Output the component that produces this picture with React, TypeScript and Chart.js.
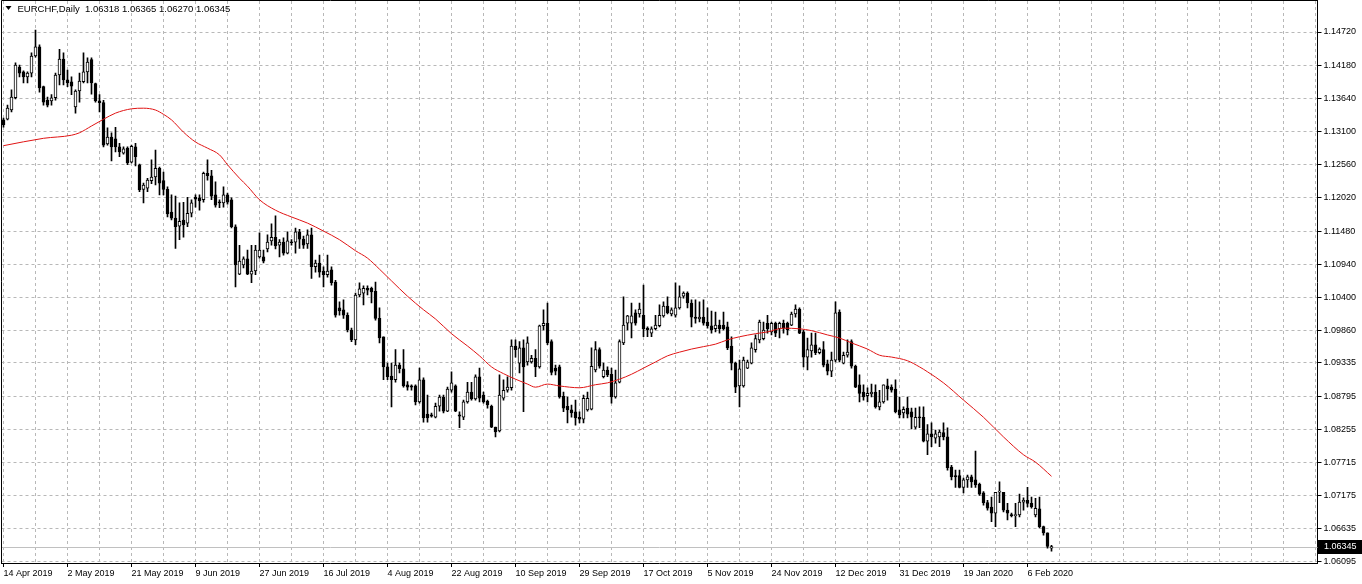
import React, { useEffect, useRef } from "react";
import { Chart, registerables } from "chart.js";

Chart.register(...registerables);

const symbol = "EURCHF";
const timeframe = "Daily";

const xTickLabels = [
  "14 Apr 2019", "2 May 2019", "21 May 2019", "9 Jun 2019", "27 Jun 2019", "16 Jul 2019",
  "4 Aug 2019", "22 Aug 2019", "10 Sep 2019", "29 Sep 2019", "17 Oct 2019", "5 Nov 2019",
  "24 Nov 2019", "12 Dec 2019", "31 Dec 2019", "19 Jan 2020", "6 Feb 2020",
];
const barsPerLabel = 16;
const barsPerGrid = 8;
const emptySlots = 66;

const yTickValues = [
  1.1472, 1.1418, 1.1364, 1.131, 1.1256, 1.1202, 1.1148, 1.1094, 1.104, 1.0986,
  1.09335, 1.08795, 1.08255, 1.07715, 1.07175, 1.06635, 1.06095,
];
const yMin = 1.060785;
const yMax = 1.152245;

const opens = [
  1.1329, 1.1330, 1.1345, 1.1365, 1.1415, 1.1407, 1.1399, 1.1405, 1.1433, 1.1448,
  1.1383, 1.1361, 1.1360, 1.1365, 1.1402, 1.1428, 1.1394, 1.1391, 1.1350, 1.1376,
  1.1391, 1.1407, 1.1427, 1.1388, 1.1360, 1.1357, 1.1290, 1.1301, 1.1298, 1.1285,
  1.1275, 1.1283, 1.1260, 1.1285, 1.1256, 1.1216, 1.1218, 1.1230, 1.1236, 1.1250,
  1.1230, 1.1216, 1.1179, 1.1169, 1.1156, 1.1166, 1.1161, 1.1177, 1.1203, 1.1202,
  1.1199, 1.1242, 1.1238, 1.1207, 1.1195, 1.1194, 1.1207, 1.1199, 1.1155, 1.1078,
  1.1093, 1.1103, 1.1078, 1.1083, 1.1106, 1.1106, 1.1119, 1.1132, 1.1138, 1.1125,
  1.1130, 1.1112, 1.1130, 1.1130, 1.1147, 1.1135, 1.1127, 1.1142, 1.1090, 1.1096,
  1.1083, 1.1077, 1.1085, 1.1065, 1.1023, 1.1020, 1.1011, 1.0987, 1.0971, 1.1044,
  1.1047, 1.1055, 1.1055, 1.1050, 1.1006, 1.0976, 1.0927, 1.0912, 1.0906, 1.0930,
  1.0924, 1.0898, 1.0896, 1.0896, 1.0870, 1.0906, 1.0850, 1.0849, 1.0845, 1.0863,
  1.0878, 1.0855, 1.0889, 1.0896, 1.0849, 1.0845, 1.0870, 1.0886, 1.0875, 1.0911,
  1.0881, 1.0871, 1.0863, 1.0829, 1.0823, 1.0876, 1.0889, 1.0893, 1.0961, 1.0933,
  1.0958, 1.0935, 1.0935, 1.0941, 1.0927, 1.0994, 1.0998, 1.0968, 1.0925, 1.0927,
  1.0879, 1.0863, 1.0857, 1.0854, 1.0845, 1.0842, 1.0857, 1.0858, 1.0922, 1.0955,
  1.0911, 1.0922, 1.0915, 1.0878, 1.0902, 1.0966, 1.0998, 1.0998, 1.1015, 1.1013,
  1.1011, 1.0990, 1.0982, 1.0989, 1.0994, 1.1010, 1.1026, 1.1013, 1.1011, 1.1023,
  1.1042, 1.1047, 1.1031, 1.1008, 1.1005, 1.1008, 1.1000, 1.0994, 1.0989, 1.0995,
  1.0995, 1.0992, 1.0961, 1.0933, 1.0896, 1.0896, 1.0925, 1.0933, 1.0955, 1.0971,
  1.0973, 1.0998, 1.0984, 1.0998, 1.0989, 1.0998, 1.0998, 1.0995, 1.1013, 1.1021,
  1.0984, 1.0943, 1.0953, 1.0963, 1.0950, 1.0955, 1.0932, 1.0920, 1.0938, 1.1016,
  1.0933, 1.0946, 1.0968, 1.0928, 1.0898, 1.0886, 1.0880, 1.0883, 1.0886, 1.0862,
  1.0870, 1.0896, 1.0894, 1.0891, 1.0857, 1.0852, 1.0860, 1.0854, 1.0829, 1.0845,
  1.0845, 1.0806, 1.0818, 1.0811, 1.0813, 1.0820, 1.0813, 1.0764, 1.0750, 1.0750,
  1.0731, 1.0743, 1.0748, 1.0743, 1.0736, 1.0722, 1.0706, 1.0699, 1.0689, 1.0723,
  1.0723, 1.0694, 1.0686, 1.0685, 1.0686, 1.0707, 1.0710, 1.0705, 1.0686, 1.0696,
  1.0667, 1.0657, 1.06318,
];

const highs = [
  1.1332, 1.1353, 1.1378, 1.1422, 1.1418, 1.1409, 1.1407, 1.1438, 1.1475, 1.1451,
  1.1384, 1.1366, 1.1370, 1.1405, 1.1444, 1.1438, 1.1410, 1.1399, 1.1378, 1.1405,
  1.1438, 1.1430, 1.1430, 1.1389, 1.1370, 1.1361, 1.1316, 1.1308, 1.1317, 1.1291,
  1.1285, 1.1285, 1.1288, 1.1291, 1.1257, 1.1226, 1.1234, 1.1264, 1.1280, 1.1252,
  1.1244, 1.1220, 1.1207, 1.1205, 1.1194, 1.1195, 1.1203, 1.1199, 1.1207, 1.1207,
  1.1244, 1.1264, 1.1247, 1.1228, 1.1199, 1.1220, 1.1210, 1.1202, 1.1158, 1.1125,
  1.1106, 1.1117, 1.1125, 1.1125, 1.1145, 1.1117, 1.1142, 1.1160, 1.1173, 1.1134,
  1.1137, 1.1147, 1.1134, 1.1153, 1.1151, 1.1140, 1.1150, 1.1153, 1.1101, 1.1109,
  1.1090, 1.1109, 1.1090, 1.1068, 1.1033, 1.1036, 1.1015, 1.0990, 1.1047, 1.1064,
  1.1059, 1.1059, 1.1057, 1.1065, 1.1023, 1.0976, 1.0933, 1.0933, 1.0955, 1.0933,
  1.0955, 1.0903, 1.0898, 1.0898, 1.0925, 1.0909, 1.0881, 1.0852, 1.0868, 1.0881,
  1.0881, 1.0894, 1.0919, 1.0898, 1.0854, 1.0873, 1.0902, 1.0902, 1.0914, 1.0925,
  1.0886, 1.0873, 1.0865, 1.0829, 1.0914, 1.0906, 1.0911, 1.0971, 1.0971, 1.0968,
  1.0971, 1.0976, 1.0946, 1.0955, 1.0995, 1.1020, 1.1031, 1.0971, 1.0930, 1.0930,
  1.0886, 1.0878, 1.0865, 1.0873, 1.0854, 1.0881, 1.0886, 1.0958, 1.0968, 1.0958,
  1.0933, 1.0927, 1.0925, 1.0922, 1.0971, 1.1041, 1.1011, 1.1031, 1.1020, 1.1031,
  1.1060, 1.0992, 1.0992, 1.1011, 1.1028, 1.1033, 1.1041, 1.1023, 1.1064, 1.1059,
  1.1049, 1.1049, 1.1036, 1.1036, 1.1033, 1.1036, 1.1023, 1.1018, 1.1016, 1.1003,
  1.1016, 1.1000, 1.0976, 1.0935, 1.0938, 1.0943, 1.0938, 1.0966, 1.0979, 1.1003,
  1.1000, 1.1011, 1.1000, 1.1000, 1.1000, 1.1003, 1.1000, 1.1016, 1.1028, 1.1023,
  1.0987, 1.0974, 1.0982, 1.0982, 1.0958, 1.0968, 1.0938, 1.0951, 1.1033, 1.1020,
  1.0951, 1.0971, 1.0971, 1.0930, 1.0914, 1.0898, 1.0893, 1.0899, 1.0898, 1.0889,
  1.0898, 1.0907, 1.0898, 1.0906, 1.0878, 1.0862, 1.0878, 1.0860, 1.0860, 1.0862,
  1.0862, 1.0833, 1.0836, 1.0824, 1.0824, 1.0836, 1.0828, 1.0767, 1.0759, 1.0759,
  1.0746, 1.0751, 1.0751, 1.0790, 1.0738, 1.0724, 1.0710, 1.0715, 1.0723, 1.0740,
  1.0723, 1.0705, 1.0689, 1.0705, 1.0720, 1.0714, 1.0731, 1.0715, 1.0713, 1.0715,
  1.0668, 1.0657, 1.06365,
];

const lows = [
  1.1317, 1.1329, 1.1342, 1.1363, 1.1399, 1.1389, 1.1389, 1.1399, 1.1431, 1.1374,
  1.1353, 1.1350, 1.1353, 1.1361, 1.1386, 1.1386, 1.1383, 1.1370, 1.1340, 1.1358,
  1.1389, 1.1389, 1.1371, 1.1358, 1.1342, 1.1285, 1.1288, 1.1262, 1.1277, 1.1269,
  1.1273, 1.1256, 1.1259, 1.1254, 1.1212, 1.1194, 1.1212, 1.1225, 1.1223, 1.1207,
  1.1207, 1.1171, 1.1166, 1.1120, 1.1134, 1.1138, 1.1155, 1.1171, 1.1187, 1.1182,
  1.1195, 1.1231, 1.1199, 1.1187, 1.1186, 1.1187, 1.1192, 1.1153, 1.1057, 1.1077,
  1.1088, 1.1077, 1.1064, 1.1077, 1.1104, 1.1096, 1.1114, 1.1125, 1.1119, 1.1106,
  1.1109, 1.1111, 1.1125, 1.1112, 1.1120, 1.1120, 1.1120, 1.1071, 1.1081, 1.1073,
  1.1057, 1.1073, 1.1060, 1.1008, 1.1011, 1.1006, 1.0984, 1.0968, 1.0963, 1.1041,
  1.1028, 1.1044, 1.1031, 1.1003, 1.0966, 1.0906, 1.0906, 1.0862, 1.0902, 1.0917,
  1.0894, 1.0889, 1.0889, 1.0865, 1.0868, 1.0837, 1.0837, 1.0845, 1.0844, 1.0855,
  1.0852, 1.0854, 1.0886, 1.0854, 1.0828, 1.0841, 1.0868, 1.0873, 1.0873, 1.0870,
  1.0868, 1.0860, 1.0828, 1.0813, 1.0821, 1.0873, 1.0886, 1.0889, 1.0943, 1.0917,
  1.0854, 1.0930, 1.0933, 1.0911, 1.0925, 1.0987, 1.0963, 1.0914, 1.0914, 1.0876,
  1.0854, 1.0836, 1.0845, 1.0832, 1.0836, 1.0836, 1.0855, 1.0857, 1.0919, 1.0925,
  1.0909, 1.0911, 1.0868, 1.0876, 1.0901, 1.0963, 1.0987, 1.0974, 1.0995, 1.1008,
  1.0976, 1.0976, 1.0976, 1.0987, 1.0992, 1.1008, 1.1013, 1.1010, 1.1008, 1.1021,
  1.1039, 1.1023, 1.0992, 1.0998, 1.1000, 1.0995, 1.0990, 1.0982, 1.0984, 1.0982,
  1.0987, 1.0955, 1.0922, 1.0885, 1.0862, 1.0894, 1.0924, 1.0932, 1.0951, 1.0966,
  1.0971, 1.0982, 1.0979, 1.0976, 1.0974, 1.0982, 1.0979, 1.0994, 1.1008, 1.0981,
  1.0927, 1.0922, 1.0943, 1.0947, 1.0948, 1.0927, 1.0914, 1.0911, 1.0935, 1.0935,
  1.0932, 1.0943, 1.0925, 1.0893, 1.0870, 1.0873, 1.0870, 1.0878, 1.0860, 1.0857,
  1.0868, 1.0873, 1.0886, 1.0852, 1.0844, 1.0844, 1.0844, 1.0826, 1.0826, 1.0828,
  1.0805, 1.0784, 1.0797, 1.0803, 1.0797, 1.0808, 1.0759, 1.0743, 1.0731, 1.0730,
  1.0722, 1.0731, 1.0731, 1.0731, 1.0718, 1.0702, 1.0694, 1.0675, 1.0667, 1.0706,
  1.0691, 1.0678, 1.0683, 1.0667, 1.0683, 1.0694, 1.0699, 1.0697, 1.0683, 1.0665,
  1.0653, 1.0632, 1.0627,
];

const closes = [
  1.1321, 1.1348, 1.1366, 1.1418, 1.1405, 1.1399, 1.1405, 1.1433, 1.1448, 1.1381,
  1.1358, 1.1353, 1.1365, 1.1402, 1.1428, 1.1394, 1.1389, 1.1384, 1.1376, 1.1392,
  1.1407, 1.1423, 1.1389, 1.1360, 1.1357, 1.1288, 1.1301, 1.1285, 1.1285, 1.1277,
  1.1282, 1.1259, 1.1286, 1.1269, 1.1215, 1.1223, 1.1231, 1.1236, 1.1250, 1.1226,
  1.1216, 1.1176, 1.1169, 1.1155, 1.1164, 1.1158, 1.1177, 1.1194, 1.1200, 1.1197,
  1.1242, 1.1238, 1.1205, 1.1190, 1.1194, 1.1207, 1.1195, 1.1155, 1.1093, 1.1099,
  1.1103, 1.1078, 1.1083, 1.1117, 1.1117, 1.1099, 1.1130, 1.1138, 1.1124, 1.1130,
  1.1112, 1.1132, 1.1129, 1.1147, 1.1135, 1.1125, 1.1142, 1.1090, 1.1096, 1.1081,
  1.1077, 1.1083, 1.1064, 1.1011, 1.1018, 1.1011, 1.0987, 1.0971, 1.1044, 1.1054,
  1.1055, 1.1052, 1.1049, 1.1006, 1.0974, 1.0927, 1.0911, 1.0906, 1.0930, 1.0924,
  1.0896, 1.0894, 1.0894, 1.0870, 1.0906, 1.0844, 1.0844, 1.0847, 1.0863, 1.0878,
  1.0855, 1.0891, 1.0901, 1.0855, 1.0847, 1.0870, 1.0886, 1.0875, 1.0911, 1.0876,
  1.0870, 1.0865, 1.0829, 1.0821, 1.0881, 1.0889, 1.0894, 1.0961, 1.0955, 1.0958,
  1.0927, 1.0966, 1.0941, 1.0927, 1.0994, 1.0998, 1.0966, 1.0918, 1.0920, 1.0878,
  1.0860, 1.0857, 1.0852, 1.0844, 1.0842, 1.0876, 1.0876, 1.0928, 1.0955, 1.0928,
  1.0922, 1.0914, 1.0878, 1.0901, 1.0968, 1.0995, 1.1010, 1.1010, 1.0998, 1.1021,
  1.0989, 1.0987, 1.0989, 1.0995, 1.1011, 1.1026, 1.1015, 1.1020, 1.1023, 1.1041,
  1.1047, 1.1031, 1.1008, 1.1006, 1.1008, 1.0998, 1.0994, 1.0987, 1.0995, 1.0989,
  1.0989, 1.0958, 1.0933, 1.0894, 1.0924, 1.0938, 1.0935, 1.0958, 1.0973, 1.1000,
  1.0987, 1.0989, 1.0998, 1.0982, 1.0998, 1.0990, 1.0987, 1.1013, 1.1021, 1.0982,
  1.0943, 1.0955, 1.0963, 1.0950, 1.0956, 1.0930, 1.0920, 1.0938, 1.1015, 1.0938,
  1.0946, 1.0951, 1.0928, 1.0894, 1.0884, 1.0878, 1.0884, 1.0886, 1.0862, 1.0870,
  1.0898, 1.0891, 1.0889, 1.0854, 1.0849, 1.0858, 1.0850, 1.0845, 1.0845, 1.0844,
  1.0806, 1.0818, 1.0813, 1.0818, 1.0821, 1.0813, 1.0763, 1.0748, 1.0748, 1.0731,
  1.0743, 1.0748, 1.0740, 1.0735, 1.0720, 1.0706, 1.0697, 1.0689, 1.0723, 1.0725,
  1.0694, 1.0689, 1.0685, 1.0686, 1.0707, 1.0710, 1.0705, 1.0699, 1.0697, 1.0667,
  1.0657, 1.0635, 1.06345,
];

const maIndex = [
  0, 10, 17, 19, 22, 25, 28, 32, 35, 38, 40, 42, 45, 48, 51, 54, 56, 59, 61, 64,
  68, 72, 76, 80, 84, 88, 91, 94, 97, 101, 105, 108, 112, 116, 119, 122, 125, 128, 131, 133,
  136, 139, 144, 148, 151, 154, 157, 160, 163, 166, 169, 172, 175, 178, 181, 184, 188, 191, 195, 199,
  202, 206, 209, 212, 216, 219, 222, 226, 229, 231, 235, 240, 245, 250, 255, 258, 262,
];
const maValues = [
  1.1287, 1.1299, 1.1304, 1.1308, 1.1319, 1.1330, 1.1340, 1.1347, 1.1348, 1.1345,
  1.1338, 1.1329, 1.1309, 1.1293, 1.1283, 1.1272, 1.1256, 1.1234, 1.1221, 1.1199,
  1.1182, 1.1171, 1.1161, 1.1148, 1.1134, 1.1116, 1.1104, 1.1086, 1.1067, 1.1042,
  1.1020, 1.1005, 1.0981, 1.0961, 1.0945, 1.0927, 1.0916, 1.0907, 1.0899, 1.0894,
  1.0899, 1.0896, 1.0893, 1.0898, 1.0901, 1.0907, 1.0915, 1.0925, 1.0935, 1.0945,
  1.0951, 1.0956, 1.0960, 1.0964, 1.0971, 1.0976, 1.0981, 1.0984, 1.0990, 1.0989,
  1.0986, 1.0979, 1.0974, 1.0966, 1.0956, 1.0946, 1.0943, 1.0937, 1.0927, 1.0919,
  1.0901, 1.0873, 1.0845, 1.0813, 1.0784, 1.0772, 1.0749,
];

const GRID = "#b8b8b8";
const FONT = { family: "'Liberation Sans', Arial, sans-serif", size: 9 };

export default function App() {
  const ref = useRef<HTMLCanvasElement>(null);

  useEffect(() => {
    document.body.style.margin = "0";
    const canvas = ref.current;
    if (!canvas) return;
    const n = opens.length;
    const slots = n + emptySlots;
    const labels = Array.from({ length: slots }, (_, i) => String(i));
    const wicks = lows.map((l, i) => [l, highs[i]]);
    const bodies = opens.map((o, i) => [Math.min(o, closes[i]), Math.max(o, closes[i])]);
    const bodyColors = opens.map((o, i) => (closes[i] > o ? "#ffffff" : "#000000"));
    const ma: (number | null)[] = new Array(n).fill(null);
    maIndex.forEach((k, j) => {
      ma[k] = maValues[j];
    });
    const last = n - 1;
    const fmt = (v: number) => v.toFixed(5);
    const titleText = `${symbol},${timeframe}  ${fmt(opens[last])} ${fmt(highs[last])} ${fmt(lows[last])} ${fmt(closes[last])}`;

    const overlay = {
      id: "mt4overlay",
      beforeDatasetsDraw(chart: any) {
        const { ctx, chartArea: a, scales } = chart;
        const y = Math.round(scales.y.getPixelForValue(closes[last])) + 0.5;
        ctx.save();
        ctx.strokeStyle = "#c0c0c0";
        ctx.lineWidth = 1;
        ctx.beginPath();
        ctx.moveTo(a.left, y);
        ctx.lineTo(a.right, y);
        ctx.stroke();
        ctx.restore();
      },
      afterDraw(chart: any) {
        const { ctx, chartArea: a, scales, width } = chart;
        ctx.save();
        ctx.strokeStyle = "#000";
        ctx.lineWidth = 1;
        ctx.beginPath();
        const lx = Math.floor(a.left) + 0.5;
        const ty = Math.floor(a.top) - 0.5;
        ctx.moveTo(lx, Math.round(a.bottom));
        ctx.lineTo(lx, ty);
        ctx.lineTo(Math.round(a.right), ty);
        ctx.stroke();

        // current price tag
        const py = Math.round(scales.y.getPixelForValue(closes[last]));
        ctx.fillStyle = "#000";
        ctx.fillRect(Math.round(a.right), py - 7, width - Math.round(a.right), 14);
        ctx.fillStyle = "#fff";
        ctx.font = `${FONT.size}px ${FONT.family}`;
        ctx.textBaseline = "middle";
        ctx.textAlign = "left";
        ctx.fillText(fmt(closes[last]), Math.round(a.right) + 6, py);

        // title
        ctx.fillStyle = "#000";
        ctx.beginPath();
        ctx.moveTo(a.left + 4, a.top + 5);
        ctx.lineTo(a.left + 10, a.top + 5);
        ctx.lineTo(a.left + 7, a.top + 9);
        ctx.closePath();
        ctx.fill();
        ctx.font = `9.5px ${FONT.family}`;
        ctx.fillText(titleText, a.left + 16, a.top + 8);
        ctx.restore();
      },
    };

    const chart = new Chart(canvas, {
      type: "bar",
      data: {
        labels,
        datasets: [
          {
            type: "line",
            data: ma,
            borderColor: "#e01414",
            borderWidth: 1,
            pointRadius: 0,
            spanGaps: true,
            cubicInterpolationMode: "monotone",
            order: 0,
          },
          {
            type: "bar",
            data: bodies,
            backgroundColor: bodyColors,
            borderColor: "#000000",
            borderWidth: 1,
            borderSkipped: false,
            barThickness: 3,
            minBarLength: 1,
            grouped: false,
            order: 1,
          },
          {
            type: "bar",
            data: wicks,
            backgroundColor: "#000000",
            borderWidth: 0,
            barThickness: 1,
            grouped: false,
            order: 2,
          },
        ],
      } as any,
      options: {
        animation: false,
        responsive: false,
        layout: { padding: { left: 1.5, top: 1, right: 0, bottom: 0 } },
        plugins: {
          legend: { display: false },
          tooltip: { enabled: false },
          title: { display: false },
        },
        scales: {
          x: {
            type: "category",
            offset: true,
            grid: {
              offset: false,
              color: (c: any) => (c.index % barsPerGrid === 0 ? GRID : "transparent"),
              tickColor: (c: any) =>
                c.index % barsPerLabel === 0 && c.index / barsPerLabel < xTickLabels.length ? "#000" : "transparent",
              tickLength: 4,
            },
            border: { display: true, color: "#000", dash: [3, 3] },
            ticks: {
              autoSkip: false,
              maxRotation: 0,
              minRotation: 0,
              align: "start",
              padding: 1,
              color: "#000",
              font: FONT,
              callback: (_v: any, i: number) =>
                i % barsPerLabel === 0 && i / barsPerLabel < xTickLabels.length ? xTickLabels[i / barsPerLabel] : "",
            },
            afterFit: (s: any) => {
              s.height = 21;
              s.paddingLeft = 0;
              s.paddingRight = 0;
            },
          },
          y: {
            position: "right",
            min: yMin,
            max: yMax,
            afterBuildTicks: (s: any) => {
              s.ticks = yTickValues.map((v) => ({ value: v }));
            },
            grid: { color: GRID, tickColor: "#000", tickLength: 4 },
            border: { display: true, color: "#000", dash: [3, 3] },
            ticks: {
              padding: 2,
              color: "#000",
              font: FONT,
              callback: (v: any) => Number(v).toFixed(5),
            },
            afterFit: (s: any) => {
              s.width = 44.5;
              s.paddingTop = 0;
              s.paddingBottom = 0;
            },
          },
        },
      } as any,
      plugins: [overlay],
    });

    return () => chart.destroy();
  }, []);

  return <canvas ref={ref} width={1362} height={584} style={{ display: "block" }} />;
}
